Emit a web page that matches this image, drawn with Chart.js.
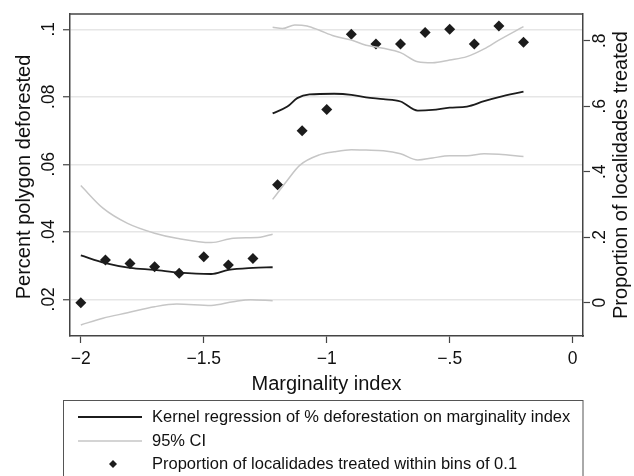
<!DOCTYPE html>
<html>
<head>
<meta charset="utf-8">
<script src="https://cdn.jsdelivr.net/npm/chart.js@4.4.1/dist/chart.umd.min.js"></script>
<style>
  body { margin: 0; background: #fff; }
  canvas { display: block; }
</style>
</head>
<body>
<canvas id="chart" width="634" height="476"></canvas>
<script>
// kernel regression, split at the cutoff
const kernelLeftX = [-2.0, -1.9, -1.8, -1.7, -1.6, -1.47, -1.4, -1.3, -1.22];
const kernelLeftY = [0.0330, 0.0307, 0.0293, 0.0287, 0.0279, 0.0275, 0.0287, 0.0293, 0.0295];
const kernelRightX = [-1.22, -1.16, -1.12, -1.07, -0.97, -0.9, -0.84, -0.77, -0.7, -0.63, -0.57, -0.5, -0.43, -0.36, -0.3, -0.2];
const kernelRightY = [0.0751, 0.0771, 0.0796, 0.0807, 0.0809, 0.0806, 0.0798, 0.0793, 0.0786, 0.0759, 0.0761, 0.0768, 0.0771, 0.0787, 0.0799, 0.0815];

// 95% CI bands
const ciUpLeftX = [-2.0, -1.91, -1.81, -1.7, -1.61, -1.47, -1.38, -1.27, -1.22];
const ciUpLeftY = [0.0537, 0.0470, 0.0425, 0.0396, 0.0381, 0.0368, 0.0381, 0.0384, 0.0393];
const ciLoLeftX = [-2.0, -1.91, -1.81, -1.7, -1.61, -1.47, -1.38, -1.31, -1.22];
const ciLoLeftY = [0.0124, 0.0144, 0.0160, 0.0178, 0.0186, 0.0182, 0.0193, 0.0199, 0.0196];
const ciUpRightX = [-1.22, -1.18, -1.13, -1.08, -1.03, -0.97, -0.9, -0.84, -0.77, -0.7, -0.63, -0.57, -0.5, -0.43, -0.36, -0.3, -0.2];
const ciUpRightY = [0.1006, 0.1002, 0.1013, 0.1010, 0.0997, 0.0980, 0.0968, 0.0953, 0.0944, 0.0931, 0.0904, 0.0901, 0.0909, 0.0919, 0.0942, 0.0968, 0.1008];
const ciLoRightX = [-1.22, -1.16, -1.11, -1.03, -0.97, -0.9, -0.84, -0.77, -0.7, -0.63, -0.57, -0.5, -0.43, -0.36, -0.3, -0.2];
const ciLoRightY = [0.0496, 0.0553, 0.0597, 0.0628, 0.0637, 0.0643, 0.0642, 0.0640, 0.0631, 0.0613, 0.0619, 0.0625, 0.0625, 0.0631, 0.0630, 0.0623];

// share of localidades treated, bins of 0.1
const binX = [-2.0, -1.9, -1.8, -1.7, -1.6, -1.5, -1.4, -1.3, -1.2, -1.1, -1.0, -0.9, -0.8, -0.7, -0.6, -0.5, -0.4, -0.3, -0.2];
const binShare = [0.0, 0.13, 0.12, 0.11, 0.09, 0.14, 0.115, 0.135, 0.36, 0.525, 0.59, 0.82, 0.79, 0.79, 0.825, 0.835, 0.79, 0.845, 0.795];

const xTicks = [-2, -1.5, -1, -0.5, 0];
const xTickLabels = ['\u22122', '\u22121.5', '\u22121', '\u2212.5', '0'];
const leftTicks = [0.02, 0.04, 0.06, 0.08, 0.1];
const leftTickLabels = ['.02', '.04', '.06', '.08', '.1'];
const rightTicks = [0, 0.2, 0.4, 0.6, 0.8];
const rightTickLabels = ['0', '.2', '.4', '.6', '.8'];

const FONT = '"Liberation Sans", Arial, sans-serif';
const INK = '#111';
const FRAME = '#444';
const KERNEL = '#1c1c1c';
const CI = '#c6c6c6';

function pts(xs, ys) {
    return xs.map((x, i) => ({ x: x, y: ys[i] }));
}

function kernelSet(xs, ys) {
    return { data: pts(xs, ys), showLine: true, borderColor: KERNEL, borderWidth: 1.8,
             pointRadius: 0, cubicInterpolationMode: 'monotone', yAxisID: 'y' };
}
function ciSet(xs, ys) {
    return { data: pts(xs, ys), showLine: true, borderColor: CI, borderWidth: 1.5,
             pointRadius: 0, cubicInterpolationMode: 'monotone', yAxisID: 'y' };
}

function rotText(ctx, text, x, y) {
    ctx.save();
    ctx.translate(x, y);
    ctx.rotate(-Math.PI / 2);
    ctx.fillText(text, 0, 0);
    ctx.restore();
}

const overlay = {
    id: 'overlay',
    afterDraw(chart) {
        const ctx = chart.ctx;
        const a = chart.chartArea;
        const sy = chart.scales.y;
        const sr = chart.scales.y1;
        ctx.save();

        // top edge of the frame
        ctx.strokeStyle = FRAME;
        ctx.lineWidth = 1.5;
        ctx.beginPath();
        ctx.moveTo(a.left, a.top);
        ctx.lineTo(a.right, a.top);
        ctx.stroke();

        // vertical tick labels
        ctx.fillStyle = INK;
        ctx.textAlign = 'center';
        ctx.textBaseline = 'alphabetic';
        ctx.font = '17.5px ' + FONT;
        leftTicks.forEach((v, i) => rotText(ctx, leftTickLabels[i], 54, sy.getPixelForValue(v)));
        rightTicks.forEach((v, i) => rotText(ctx, rightTickLabels[i], 605, sr.getPixelForValue(v)));

        // axis titles
        ctx.font = '20px ' + FONT;
        const midY = (a.top + a.bottom) / 2;
        rotText(ctx, 'Percent polygon deforested', 30, midY + 2);
        rotText(ctx, 'Proportion of localidades treated', 627, midY);
        ctx.fillText('Marginality index', (a.left + a.right) / 2, 390);

        // legend
        ctx.strokeStyle = '#555';
        ctx.lineWidth = 1;
        ctx.strokeRect(63.5, 400.5, 519.5, 100);
        ctx.lineWidth = 1.8;
        ctx.strokeStyle = KERNEL;
        ctx.beginPath(); ctx.moveTo(78, 417); ctx.lineTo(142, 417); ctx.stroke();
        ctx.lineWidth = 1.5;
        ctx.strokeStyle = CI;
        ctx.beginPath(); ctx.moveTo(78, 441); ctx.lineTo(142, 441); ctx.stroke();
        ctx.fillStyle = KERNEL;
        ctx.beginPath();
        ctx.moveTo(113, 460); ctx.lineTo(117, 464); ctx.lineTo(113, 468); ctx.lineTo(109, 464);
        ctx.closePath(); ctx.fill();

        ctx.fillStyle = INK;
        ctx.font = '16.5px ' + FONT;
        ctx.textAlign = 'left';
        ctx.textBaseline = 'middle';
        ctx.fillText('Kernel regression of % deforestation on marginality index', 152, 417);
        ctx.fillText('95% CI', 152, 441);
        ctx.fillText('Proportion of localidades treated within bins of 0.1', 152, 464);
        ctx.restore();
    }
};

const ctx = document.getElementById('chart').getContext('2d');
const chart = new Chart(ctx, {
    type: 'scatter',
    data: {
        datasets: [
            ciSet(ciUpLeftX, ciUpLeftY),
            ciSet(ciLoLeftX, ciLoLeftY),
            ciSet(ciUpRightX, ciUpRightY),
            ciSet(ciLoRightX, ciLoRightY),
            kernelSet(kernelLeftX, kernelLeftY),
            kernelSet(kernelRightX, kernelRightY),
            {
                data: pts(binX, binShare),
                yAxisID: 'y1',
                showLine: false,
                pointStyle: 'rectRot',
                pointRadius: 5.5,
                backgroundColor: KERNEL,
                borderWidth: 0
            }
        ]
    },
    options: {
        responsive: false,
        animation: false,
        layout: { padding: { top: 14, left: 0, right: 0, bottom: 0 } },
        plugins: { legend: { display: false }, tooltip: { enabled: false } },
        scales: {
            x: {
                type: 'linear',
                min: -2.044,
                max: 0.042,
                afterBuildTicks: s => { s.ticks = xTicks.map(v => ({ value: v })); },
                afterFit: s => { s.height = 140; },
                ticks: {
                    callback: v => xTickLabels[xTicks.indexOf(v)],
                    font: { family: FONT, size: 17.5 },
                    color: INK,
                    padding: 6,
                    maxRotation: 0
                },
                grid: { drawOnChartArea: false, tickLength: 7, tickColor: FRAME, tickWidth: 1.2 },
                border: { color: FRAME, width: 1.5 }
            },
            y: {
                position: 'left',
                min: 0.00913,
                max: 0.10453,
                afterBuildTicks: s => { s.ticks = leftTicks.map(v => ({ value: v })); },
                afterFit: s => { s.width = 70; },
                ticks: { display: false },
                grid: { color: '#e6e6e6', lineWidth: 1.5, tickLength: 7, tickColor: FRAME, tickWidth: 1.2 },
                border: { color: FRAME, width: 1.5 }
            },
            y1: {
                position: 'right',
                min: -0.1017,
                max: 0.8815,
                afterBuildTicks: s => { s.ticks = rightTicks.map(v => ({ value: v })); },
                afterFit: s => { s.width = 51; },
                ticks: { display: false },
                grid: { drawOnChartArea: false, tickLength: 7, tickColor: FRAME, tickWidth: 1.2 },
                border: { color: FRAME, width: 1.5 }
            }
        }
    },
    plugins: [overlay]
});
</script>
</body>
</html>
